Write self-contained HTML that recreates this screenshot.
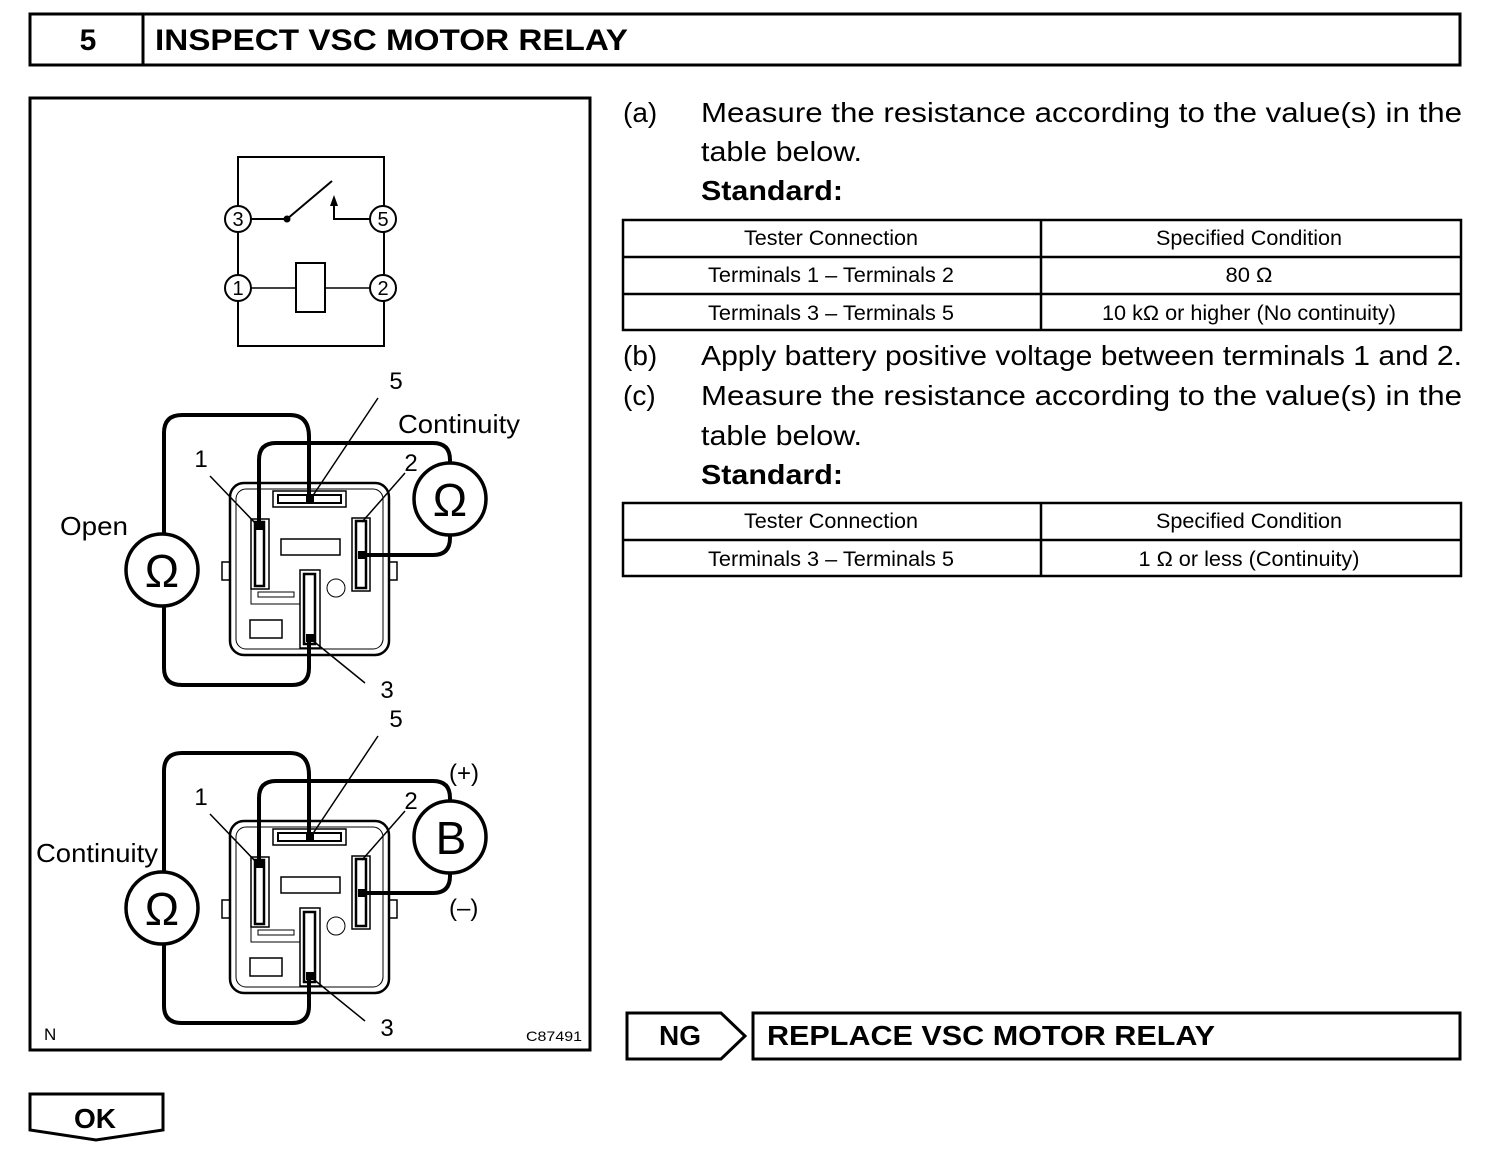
<!DOCTYPE html>
<html><head><meta charset="utf-8"><style>
body{margin:0;background:#fff;}
svg{display:block;font-family:"Liberation Sans",Arial,sans-serif;}
</style></head><body>
<svg width="1504" height="1160" viewBox="0 0 1504 1160" xmlns="http://www.w3.org/2000/svg">
<g fill="none" stroke="#000">
<rect x="30" y="14" width="1430" height="51" stroke-width="3"/>
<line x1="143" y1="14" x2="143" y2="65" stroke-width="3"/>
<rect x="30" y="98" width="560" height="952" stroke-width="3"/>
</g>
<text x="88" y="50" font-size="30" font-weight="bold" text-anchor="middle">5</text>
<text x="155" y="50" font-size="30" font-weight="bold" textLength="473" lengthAdjust="spacingAndGlyphs">INSPECT VSC MOTOR RELAY</text>

<!-- schematic -->
<g fill="none" stroke="#000" stroke-width="2">
<rect x="238" y="157" width="146" height="189"/>
<line x1="251" y1="219" x2="287" y2="219"/>
<line x1="287" y1="219" x2="332" y2="181"/>
<polyline points="370,219 334,219 334,204"/>
<line x1="251" y1="288" x2="296" y2="288" stroke-width="1.5"/>
<line x1="325" y1="288" x2="370" y2="288" stroke-width="1.5"/>
<rect x="296" y="263" width="29" height="49"/>
</g>
<polygon points="330,206 338,206 334,195" fill="#000"/>
<circle cx="287" cy="219" r="3.5" fill="#000"/>
<g fill="#fff" stroke="#000" stroke-width="2">
<circle cx="238" cy="219" r="13"/><circle cx="383" cy="219" r="13"/>
<circle cx="238" cy="288" r="13"/><circle cx="383" cy="288" r="13"/>
</g>
<g font-size="20" text-anchor="middle">
<text x="238" y="226">3</text><text x="383" y="226">5</text>
<text x="238" y="295">1</text><text x="383" y="295">2</text>
</g>

<defs>
<g id="relay">
<g fill="none" stroke="#000">
<rect x="230" y="483" width="159" height="172" rx="14" stroke-width="2.5"/>
<rect x="236" y="489" width="147" height="160" rx="10" stroke-width="1"/>
<rect x="222" y="562" width="8" height="18" stroke-width="1.5"/>
<rect x="389" y="562" width="8" height="18" stroke-width="1.5"/>
<rect x="273" y="491" width="73" height="16" stroke-width="1.5"/>
<rect x="278" y="495" width="63" height="8" stroke-width="2"/>
<rect x="251" y="519" width="18" height="70" stroke-width="1.5"/>
<rect x="255" y="522" width="9" height="64" stroke-width="2.5"/>
<rect x="352" y="518" width="18" height="73" stroke-width="1.5"/>
<rect x="356" y="521" width="10" height="67" stroke-width="2.5"/>
<rect x="300" y="570" width="20" height="78" stroke-width="1.5"/>
<rect x="304" y="574" width="11" height="70" stroke-width="2.5"/>
<rect x="281" y="539" width="59" height="16" stroke-width="1.5"/>
<circle cx="336" cy="588" r="9" stroke-width="1"/>
<rect x="250" y="620" width="32" height="18" stroke-width="1.5"/>
<polyline points="251,589 251,604 300,604" stroke-width="1"/>
<rect x="258" y="592" width="36" height="5" stroke-width="1"/>
<path d="M309 500 V437 Q309 415 290 415 H182 Q164 415 164 433 V536 M164 604 V668 Q164 685 182 685 H292 Q309 685 309 668 V640" stroke-width="4"/>
<path d="M259 522 V460 Q259 443 276 443 H433 Q450 443 450 460 V470 M450 528 V538 Q450 555 433 555 H362" stroke-width="4"/>
<line x1="378" y1="398" x2="310" y2="500" stroke-width="1.5"/>
<line x1="210" y1="476" x2="258" y2="526" stroke-width="1.5"/>
<line x1="405" y1="473" x2="362" y2="522" stroke-width="1.5"/>
<line x1="312" y1="640" x2="365" y2="683" stroke-width="1.5"/>
</g>
<rect x="306" y="495" width="8" height="8" fill="#000"/>
<rect x="256" y="522" width="7" height="8" fill="#000"/>
<rect x="358" y="551" width="8" height="8" fill="#000"/>
<rect x="306" y="634" width="8" height="8" fill="#000"/>
<circle cx="162" cy="570" r="36" fill="#fff" stroke="#000" stroke-width="3.5"/>
<text x="162" y="587" font-size="46" text-anchor="middle">Ω</text>
<circle cx="450" cy="499" r="36" fill="#fff" stroke="#000" stroke-width="3.5"/>
<g font-size="24">
<text x="396" y="389" text-anchor="middle">5</text>
<text x="201" y="467" text-anchor="middle">1</text>
<text x="411" y="471" text-anchor="middle">2</text>
<text x="387" y="698" text-anchor="middle">3</text>
</g>
</g>
</defs>
<use href="#relay"/>
<text x="450" y="516" font-size="46" text-anchor="middle">Ω</text>
<text x="398" y="433" font-size="26" textLength="122" lengthAdjust="spacingAndGlyphs">Continuity</text>
<text x="60" y="535" font-size="26" textLength="68" lengthAdjust="spacingAndGlyphs">Open</text>

<use href="#relay" transform="translate(0,338)"/>
<text x="451" y="854" font-size="46" text-anchor="middle">B</text>
<text x="36" y="862" font-size="26" textLength="122" lengthAdjust="spacingAndGlyphs">Continuity</text>
<text x="449" y="781" font-size="24">(+)</text>
<text x="449" y="916" font-size="24">(–)</text>

<text x="44" y="1040" font-size="17">N</text>
<text x="526" y="1041" font-size="14" textLength="56" lengthAdjust="spacingAndGlyphs">C87491</text>

<g font-size="28">
<text x="623" y="122">(a)</text>
<text x="701" y="122" textLength="761" lengthAdjust="spacingAndGlyphs">Measure the resistance according to the value(s) in the</text>
<text x="701" y="161" textLength="161" lengthAdjust="spacingAndGlyphs">table below.</text>
<text x="701" y="200" font-weight="bold" textLength="142" lengthAdjust="spacingAndGlyphs">Standard:</text>
<text x="623" y="365">(b)</text>
<text x="701" y="365" textLength="761" lengthAdjust="spacingAndGlyphs">Apply battery positive voltage between terminals 1 and 2.</text>
<text x="623" y="405">(c)</text>
<text x="701" y="405" textLength="761" lengthAdjust="spacingAndGlyphs">Measure the resistance according to the value(s) in the</text>
<text x="701" y="445" textLength="161" lengthAdjust="spacingAndGlyphs">table below.</text>
<text x="701" y="484" font-weight="bold" textLength="142" lengthAdjust="spacingAndGlyphs">Standard:</text>
</g>
<g fill="none" stroke="#000" stroke-width="2.5">
<rect x="623" y="220" width="838" height="110"/>
<line x1="623" y1="257" x2="1461" y2="257"/>
<line x1="623" y1="294" x2="1461" y2="294"/>
<line x1="1041" y1="220" x2="1041" y2="330"/>
<rect x="623" y="503" width="838" height="73"/>
<line x1="623" y1="540" x2="1461" y2="540"/>
<line x1="1041" y1="503" x2="1041" y2="576"/>
</g>
<g font-size="21" text-anchor="middle" lengthAdjust="spacingAndGlyphs">
<text x="831" y="245" textLength="174" lengthAdjust="spacingAndGlyphs">Tester Connection</text>
<text x="1249" y="245" textLength="186" lengthAdjust="spacingAndGlyphs">Specified Condition</text>
<text x="831" y="282" textLength="246" lengthAdjust="spacingAndGlyphs">Terminals 1 – Terminals 2</text>
<text x="1249" y="282" textLength="47" lengthAdjust="spacingAndGlyphs">80 Ω</text>
<text x="831" y="320" textLength="246" lengthAdjust="spacingAndGlyphs">Terminals 3 – Terminals 5</text>
<text x="1249" y="320" textLength="294" lengthAdjust="spacingAndGlyphs">10 kΩ or higher (No continuity)</text>
<text x="831" y="528" textLength="174" lengthAdjust="spacingAndGlyphs">Tester Connection</text>
<text x="1249" y="528" textLength="186" lengthAdjust="spacingAndGlyphs">Specified Condition</text>
<text x="831" y="566" textLength="246" lengthAdjust="spacingAndGlyphs">Terminals 3 – Terminals 5</text>
<text x="1249" y="566" textLength="221" lengthAdjust="spacingAndGlyphs">1 Ω or less (Continuity)</text>
</g>

<g fill="none" stroke="#000" stroke-width="3">
<polygon points="627,1013 721,1013 745,1036 721,1059 627,1059"/>
<rect x="753" y="1013" width="707" height="46"/>
<polygon points="30,1094 163,1094 163,1130 96,1140 30,1130"/>
</g>
<text x="680" y="1045" font-size="28" font-weight="bold" text-anchor="middle">NG</text>
<text x="767" y="1045" font-size="28" font-weight="bold" textLength="448" lengthAdjust="spacingAndGlyphs">REPLACE VSC MOTOR RELAY</text>
<text x="95" y="1128" font-size="28" font-weight="bold" text-anchor="middle">OK</text>
</svg>
</body></html>
